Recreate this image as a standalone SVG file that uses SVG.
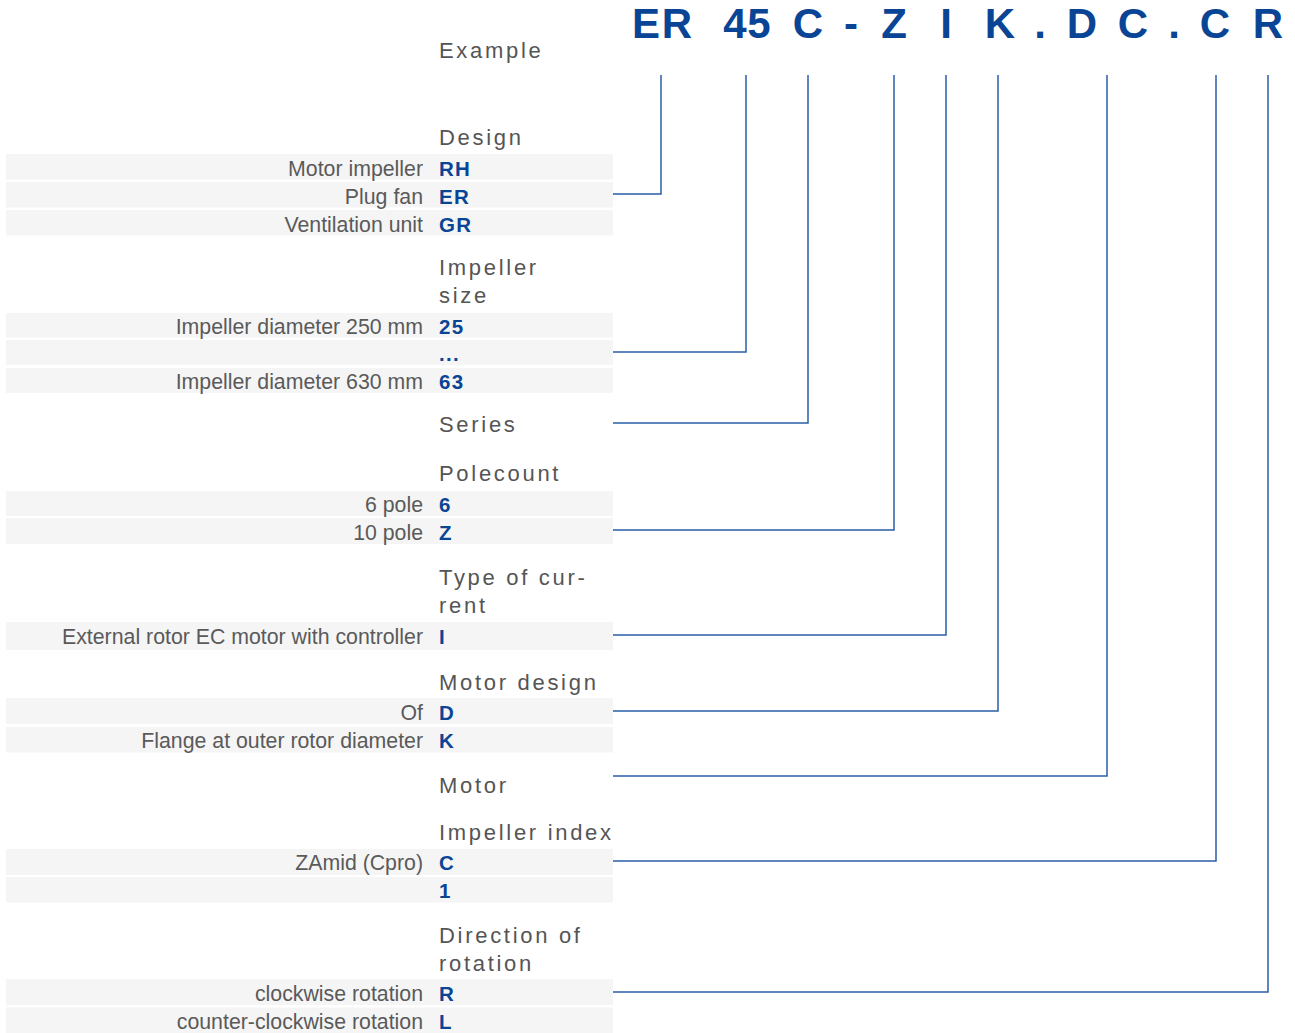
<svg xmlns="http://www.w3.org/2000/svg" width="1295" height="1033" viewBox="0 0 1295 1033">
<style>
.bg{fill:#f5f5f5}
.lab{font-family:"Liberation Sans",Arial,sans-serif;font-size:21.3px;fill:#5a5a5a;text-anchor:end}
.code{font-family:"Liberation Sans",Arial,sans-serif;font-size:20.5px;font-weight:bold;fill:#0a4595;letter-spacing:1.3px}
.head{font-family:"Liberation Sans",Arial,sans-serif;font-size:22px;fill:#555;letter-spacing:2.7px}
.big{font-family:"Liberation Sans",Arial,sans-serif;font-size:42px;font-weight:bold;fill:#0a4595;text-anchor:middle}
.con{fill:none;stroke:#2b5ea8;stroke-width:1.5}
</style>
<rect width="1295" height="1033" fill="#fff"/>
<g id="example">
<text class="head" x="439" y="57.5">Example</text>
<text class="big" x="646 677 692 735 759 783 808 826 851 872 894 920 946 972 1000 1020 1040 1061 1082 1108 1133 1154 1174 1195 1215 1242 1268" y="38">ER 45 C - Z I K . D C . C R</text>
</g>
<g id="design">
<text class="head" x="439" y="145">Design</text>
<rect class="bg" x="6" y="154" width="607" height="25.5"/>
<rect class="bg" x="6" y="182" width="607" height="25.5"/>
<rect class="bg" x="6" y="210" width="607" height="25.5"/>
<text class="lab" x="423" y="175.5">Motor impeller</text><text class="code" x="439" y="175.5">RH</text>
<text class="lab" x="423" y="203.5">Plug fan</text><text class="code" x="439" y="203.5">ER</text>
<text class="lab" x="423" y="231.5">Ventilation unit</text><text class="code" x="439" y="231.5">GR</text>
</g>
<g id="impeller-size">
<text class="head" x="439" y="274.5">Impeller</text>
<text class="head" x="439" y="303">size</text>
<rect class="bg" x="6" y="313" width="607" height="24.5"/>
<rect class="bg" x="6" y="340" width="607" height="25"/>
<rect class="bg" x="6" y="368" width="607" height="25"/>
<text class="lab" x="423" y="334">Impeller diameter 250 mm</text><text class="code" x="439" y="334">25</text>
<text class="code" x="439" y="361">...</text>
<text class="lab" x="423" y="389">Impeller diameter 630 mm</text><text class="code" x="439" y="389">63</text>
</g>
<g id="series">
<text class="head" x="439" y="432">Series</text>
</g>
<g id="polecount">
<text class="head" x="439" y="481">Polecount</text>
<rect class="bg" x="6" y="491" width="607" height="25"/>
<rect class="bg" x="6" y="518" width="607" height="26"/>
<text class="lab" x="423" y="512">6 pole</text><text class="code" x="439" y="512">6</text>
<text class="lab" x="423" y="539.5">10 pole</text><text class="code" x="439" y="539.5">Z</text>
</g>
<g id="type-of-current">
<text class="head" x="439" y="585">Type of cur-</text>
<text class="head" x="439" y="613">rent</text>
<rect class="bg" x="6" y="622" width="607" height="28"/>
<text class="lab" x="423" y="643.5">External rotor EC motor with controller</text><text class="code" x="439" y="643.5">I</text>
</g>
<g id="motor-design">
<text class="head" x="439" y="690">Motor design</text>
<rect class="bg" x="6" y="698" width="607" height="26"/>
<rect class="bg" x="6" y="727" width="607" height="25.5"/>
<text class="lab" x="423" y="719.5">Of</text><text class="code" x="439" y="719.5">D</text>
<text class="lab" x="423" y="748">Flange at outer rotor diameter</text><text class="code" x="439" y="748">K</text>
</g>
<g id="motor">
<text class="head" x="439" y="792.5">Motor</text>
</g>
<g id="impeller-index">
<text class="head" x="439" y="839.5">Impeller index</text>
<rect class="bg" x="6" y="849" width="607" height="26"/>
<rect class="bg" x="6" y="877" width="607" height="25.5"/>
<text class="lab" x="423" y="870">ZAmid (Cpro)</text><text class="code" x="439" y="870">C</text>
<text class="code" x="439" y="898">1</text>
</g>
<g id="direction-of-rotation">
<text class="head" x="439" y="943">Direction of</text>
<text class="head" x="439" y="970.5">rotation</text>
<rect class="bg" x="6" y="979" width="607" height="26"/>
<rect class="bg" x="6" y="1007.5" width="607" height="25.5"/>
<text class="lab" x="423" y="1000.5">clockwise rotation</text><text class="code" x="439" y="1000.5">R</text>
<text class="lab" x="423" y="1028.5">counter-clockwise rotation</text><text class="code" x="439" y="1028.5">L</text>
</g>
<g id="connectors">
<polyline class="con" points="613,194 661,194 661,75"/>
<polyline class="con" points="613,352 746,352 746,75"/>
<polyline class="con" points="613,423 808,423 808,75"/>
<polyline class="con" points="613,530 894,530 894,75"/>
<polyline class="con" points="613,635 946,635 946,75"/>
<polyline class="con" points="613,711 998,711 998,75"/>
<polyline class="con" points="613,776 1107,776 1107,75"/>
<polyline class="con" points="613,861 1216,861 1216,75"/>
<polyline class="con" points="613,992 1268,992 1268,75"/>
</g>
</svg>
